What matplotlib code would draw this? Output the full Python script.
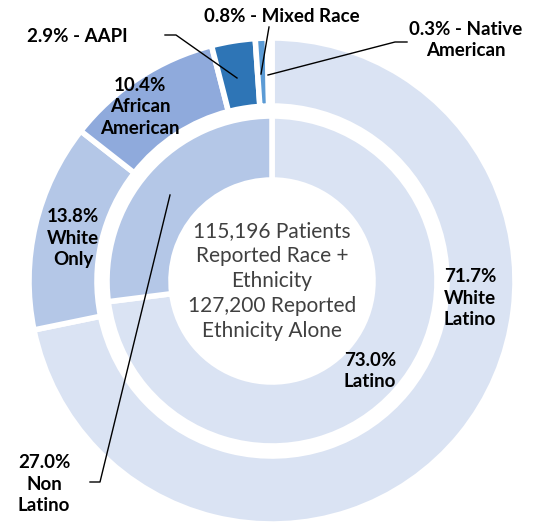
import matplotlib.pyplot as plt

plt.rcParams['font.family'] = ['Lato', 'DejaVu Sans']

# outer ring: race + ethnicity
outer_labels = ['White Latino', 'White Only', 'African American', 'AAPI', 'Mixed Race', 'Native American']
outer_vals = [71.7, 13.8, 10.4, 2.9, 0.8, 0.3]
outer_colors = ['#DAE3F3', '#B4C7E7', '#8FAADC', '#2E75B6', '#5B9BD5', '#9DC3E6']

# inner ring: ethnicity alone
inner_labels = ['Latino', 'Non Latino']
inner_vals = [73.0, 27.0]
inner_colors = ['#DAE3F3', '#B4C7E7']

center_text = "115,196 Patients\nReported Race +\nEthnicity\n127,200 Reported\nEthnicity Alone"

W, H = 538, 522
fig = plt.figure(figsize=(W / 100, H / 100), dpi=100)
ax = fig.add_axes([0, 0, 1, 1])

cx, cy = 272, H - 281
edge = dict(edgecolor='white', linewidth=4)

ax.pie(outer_vals, radius=243, center=(cx, cy), startangle=90, counterclock=False,
       colors=outer_colors, wedgeprops=dict(width=68, **edge))
ax.pie(inner_vals, radius=165, center=(cx, cy), startangle=90, counterclock=False,
       colors=inner_colors, wedgeprops=dict(width=64, **edge))

ax.set_xlim(0, W)
ax.set_ylim(0, H)
ax.set_aspect('equal')
ax.axis('off')


def y(v):
    return H - v


lab = dict(fontsize=13.5, fontweight='bold', color='black', ha='center', va='center', linespacing=1.3)

ax.text(470, y(298), f"{outer_vals[0]}%\nWhite\nLatino", **lab)
ax.text(73, y(238), f"{outer_vals[1]}%\nWhite\nOnly", **lab)
ax.text(140, y(107), f"{outer_vals[2]}%\nAfrican\nAmerican", **lab)
ax.text(77, y(37), f"{outer_vals[3]}% - {outer_labels[3]}", **lab)
ax.text(282, y(16), f"{outer_vals[4]}% - {outer_labels[4]}", **lab)
ax.text(466, y(40), f"{outer_vals[5]}% - Native\nAmerican", **lab)
ax.text(370, y(371), f"{inner_vals[0]}%\n{inner_labels[0]}", **lab)
ax.text(44, y(484), f"{inner_vals[1]}%\nNon\nLatino", **lab)

ax.text(cx, y(281), center_text, fontsize=15, color='#404040', ha='center', va='center',
        linespacing=1.3)

# leader lines
lk = dict(color='black', linewidth=1)
ax.plot([165, 176, 237], [y(35), y(35), y(78)], **lk)
ax.plot([269, 261], [y(27), y(74)], **lk)
ax.plot([407, 395, 268], [y(42), y(42), y(75)], **lk)
ax.plot([90, 100, 170], [y(482), y(482), y(195)], **lk)

fig.savefig('out.png', dpi=100)
